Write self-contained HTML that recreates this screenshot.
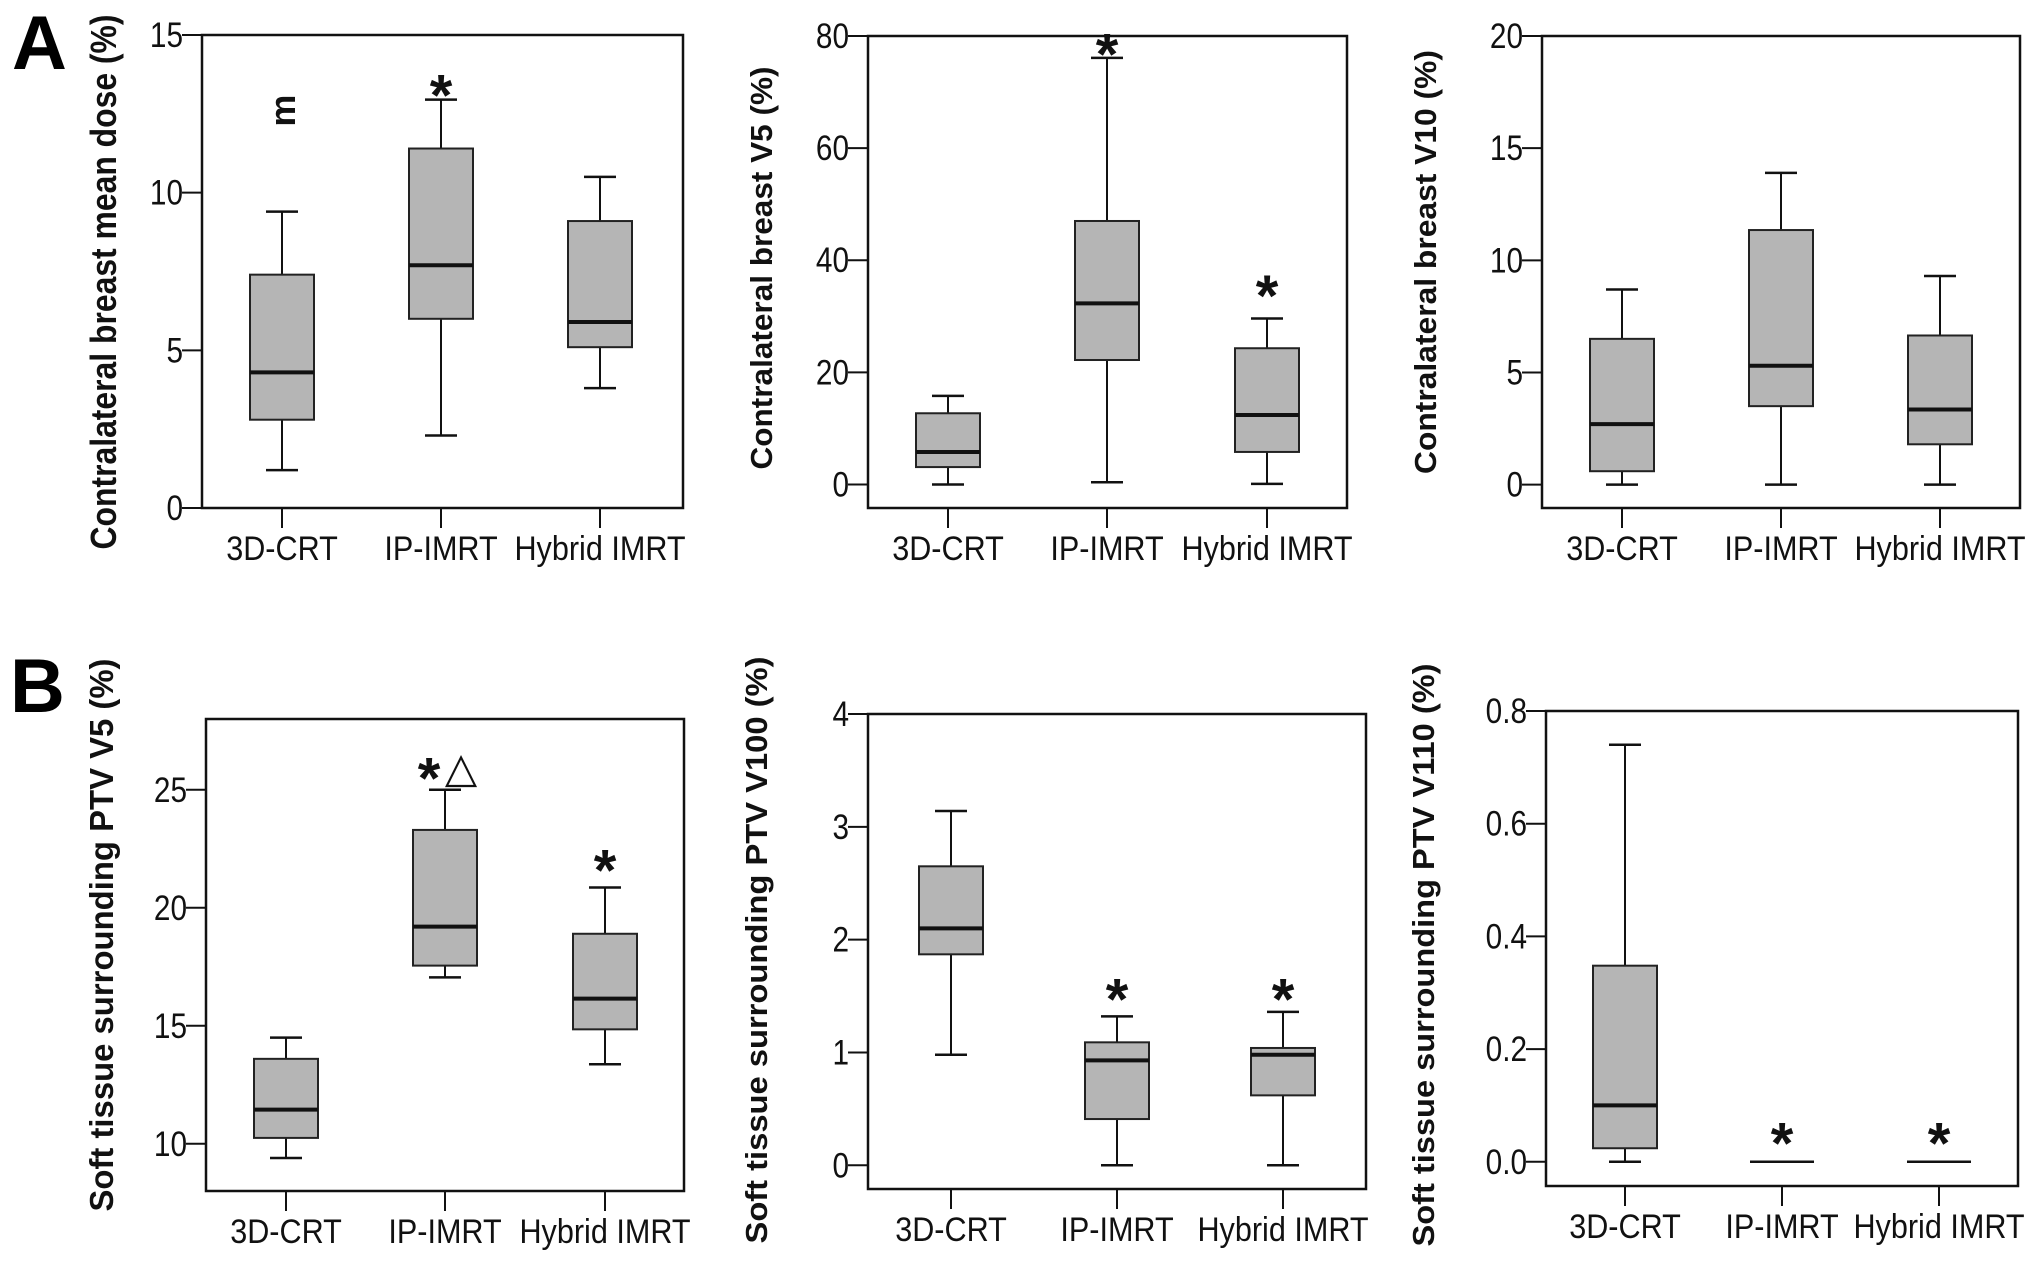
<!DOCTYPE html>
<html><head><meta charset="utf-8">
<style>
html,body{margin:0;padding:0;background:#fff;}
svg{display:block;font-family:"Liberation Sans",Arial,sans-serif;}
</style></head>
<body>
<svg id="fig" width="2031" height="1263" viewBox="0 0 2031 1263" xmlns="http://www.w3.org/2000/svg">
<text x="12" y="69" font-size="76" font-weight="bold">A</text>
<text x="10" y="712" font-size="76" font-weight="bold">B</text>
</svg>
<script>
const categories = ["3D-CRT", "IP-IMRT", "Hybrid IMRT"];

const a1Min = [1.2, 2.3, 3.8];
const a1Q1 = [2.8, 6.0, 5.1];
const a1Med = [4.3, 7.7, 5.9];
const a1Q3 = [7.4, 11.4, 9.1];
const a1Max = [9.4, 12.95, 10.5];
const a1Ticks = [0, 5, 10, 15];
const a1TickLabels = ["0", "5", "10", "15"];

const a2Min = [0, 0.4, 0.1];
const a2Q1 = [3.1, 22.2, 5.8];
const a2Med = [5.8, 32.3, 12.4];
const a2Q3 = [12.7, 47.0, 24.3];
const a2Max = [15.8, 76.1, 29.6];
const a2Ticks = [0, 20, 40, 60, 80];
const a2TickLabels = ["0", "20", "40", "60", "80"];

const a3Min = [0, 0, 0];
const a3Q1 = [0.6, 3.5, 1.8];
const a3Med = [2.7, 5.3, 3.35];
const a3Q3 = [6.5, 11.35, 6.65];
const a3Max = [8.7, 13.9, 9.3];
const a3Ticks = [0, 5, 10, 15, 20];
const a3TickLabels = ["0", "5", "10", "15", "20"];

const b1Min = [9.4, 17.05, 13.37];
const b1Q1 = [10.25, 17.55, 14.85];
const b1Med = [11.45, 19.2, 16.15];
const b1Q3 = [13.6, 23.3, 18.9];
const b1Max = [14.5, 25.0, 20.86];
const b1Ticks = [10, 15, 20, 25];
const b1TickLabels = ["10", "15", "20", "25"];

const b2Min = [0.98, 0, 0];
const b2Q1 = [1.87, 0.41, 0.62];
const b2Med = [2.1, 0.93, 0.98];
const b2Q3 = [2.65, 1.09, 1.04];
const b2Max = [3.14, 1.32, 1.36];
const b2Ticks = [0, 1, 2, 3, 4];
const b2TickLabels = ["0", "1", "2", "3", "4"];

const b3Min = [0, 0, 0];
const b3Q1 = [0.024, 0, 0];
const b3Med = [0.1, 0, 0];
const b3Q3 = [0.348, 0, 0];
const b3Max = [0.74, 0, 0];
const b3Ticks = [0, 0.2, 0.4, 0.6, 0.8];
const b3TickLabels = ["0.0", "0.2", "0.4", "0.6", "0.8"];

const NS = "http://www.w3.org/2000/svg";
const svg = document.getElementById("fig");
function mk(tag, attrs, parent) {
  const e = document.createElementNS(NS, tag);
  for (const k in attrs) e.setAttribute(k, attrs[k]);
  (parent || svg).appendChild(e);
  return e;
}

function panel(cfg) {
  const g = mk("g", {});
  
  
  const y = v => cfg.bottom - (v - cfg.ymin) / (cfg.ymax - cfg.ymin) * (cfg.bottom - cfg.top);
  const x = i => cfg.cx[i];
  const frame = mk("rect", {x: cfg.left, y: cfg.top, width: cfg.right - cfg.left, height: cfg.bottom - cfg.top, fill: "none", stroke: "#111", "stroke-width": 2.5}, g);
  
  
  cfg.ticks.forEach((t, i) => {
    const ln = mk("line", {x1: cfg.left - 20, x2: cfg.left, y1: y(t), y2: y(t), stroke: "#111", "stroke-width": 2}, g);
    
    
    const tx = mk("text", {x: 0, y: 0, "font-size": 35, "text-anchor": "end", fill: "#111",
      transform: "translate(" + (cfg.left - 19) + "," + (y(t) + 12) + ") scale(0.85,1)"}, g);
    
    
    tx.textContent = cfg.tickLabels[i];
  });
  categories.forEach((c, i) => {
    const ln = mk("line", {x1: x(i), x2: x(i), y1: cfg.bottom, y2: cfg.bottom + 20, stroke: "#111", "stroke-width": 2}, g);
    
    
    const tx = mk("text", {x: 0, y: 0, "font-size": 34, "text-anchor": "middle", fill: "#111",
      transform: "translate(" + x(i) + "," + (cfg.bottom + 52) + ") scale(0.9,1)"}, g);
    
    
    tx.textContent = c;
  });
  const hw = 32, cw = 16;
  categories.forEach((c, i) => {
    const bg = mk("g", {}, g);
    
    
    const mn = cfg.min[i], q1 = cfg.q1[i], md = cfg.med[i], q3 = cfg.q3[i], mx = cfg.max[i];
    if (q3 > q1) {
      mk("line", {x1: x(i), x2: x(i), y1: y(mx), y2: y(q3), stroke: "#111", "stroke-width": 2}, bg);
      mk("line", {x1: x(i), x2: x(i), y1: y(q1), y2: y(mn), stroke: "#111", "stroke-width": 2}, bg);
      mk("line", {x1: x(i) - cw, x2: x(i) + cw, y1: y(mx), y2: y(mx), stroke: "#111", "stroke-width": 2.5}, bg);
      mk("line", {x1: x(i) - cw, x2: x(i) + cw, y1: y(mn), y2: y(mn), stroke: "#111", "stroke-width": 2.5}, bg);
      mk("rect", {x: x(i) - hw, y: y(q3), width: 2 * hw, height: y(q1) - y(q3), fill: "#b5b5b5", stroke: "#222", "stroke-width": 2}, bg);
      mk("line", {x1: x(i) - hw, x2: x(i) + hw, y1: y(md), y2: y(md), stroke: "#111", "stroke-width": 4}, bg);
    } else {
      mk("line", {x1: x(i) - hw, x2: x(i) + hw, y1: y(md), y2: y(md), stroke: "#111", "stroke-width": 2.5}, bg);
    }
  });
  (cfg.marks || []).forEach(m => {
    const tx = mk("text", {x: x(m.i) + (m.dx || 0), y: y(m.v) + 30, "font-size": 58, "font-weight": "bold", "text-anchor": "middle", fill: "#111"}, g);
    
    
    tx.textContent = m.t;
  });
  const tt = mk("text", {x: 0, y: 0, "font-size": cfg.tfs, "font-weight": "bold", "text-anchor": "middle", fill: "#111",
    transform: "translate(" + (cfg.tx + cfg.tfs * 0.36) + "," + cfg.ty + ") rotate(-90)",
    textLength: cfg.tlen, lengthAdjust: "spacingAndGlyphs"}, g);
  
  
  tt.textContent = cfg.title;
  return {g, y, x};
}

const pa1 = panel({name: "panel-a1-mean-dose", left: 202, right: 683, top: 35, bottom: 508, ymin: 0, ymax: 15,
  cx: [282, 441, 600], ticks: a1Ticks, tickLabels: a1TickLabels,
  min: a1Min, q1: a1Q1, med: a1Med, q3: a1Q3, max: a1Max,
  marks: [{i: 1, v: 13.4, t: "*"}],
  title: "Contralateral breast mean dose (%)", tx: 103, ty: 282, tlen: 535, tfs: 36});
const mm = mk("text", {x: 0, y: 0, "font-size": 36, "font-weight": "bold", "text-anchor": "middle", fill: "#111",
  transform: "translate(" + (pa1.x(0) + 13) + "," + pa1.y(12.6) + ") rotate(-90)"}, pa1.g);


mm.textContent = "m";

panel({name: "panel-a2-v5", left: 868, right: 1347, top: 36, bottom: 508, ymin: -4.2, ymax: 80,
  cx: [948, 1107, 1267], ticks: a2Ticks, tickLabels: a2TickLabels,
  min: a2Min, q1: a2Q1, med: a2Med, q3: a2Q3, max: a2Max,
  marks: [{i: 1, v: 78.5, t: "*"}, {i: 2, v: 35.4, t: "*"}],
  title: "Contralateral breast V5 (%)", tx: 761, ty: 268, tlen: 403, tfs: 31});

panel({name: "panel-a3-v10", left: 1542, right: 2020, top: 36, bottom: 508, ymin: -1.04, ymax: 20,
  cx: [1622, 1781, 1940], ticks: a3Ticks, tickLabels: a3TickLabels,
  min: a3Min, q1: a3Q1, med: a3Med, q3: a3Q3, max: a3Max,
  marks: [],
  title: "Contralateral breast V10 (%)", tx: 1425, ty: 262, tlen: 424, tfs: 31});

panel({name: "panel-b1-soft-tissue-v5", left: 206, right: 684, top: 719, bottom: 1191, ymin: 8, ymax: 28,
  cx: [286, 445, 605], ticks: b1Ticks, tickLabels: b1TickLabels,
  min: b1Min, q1: b1Q1, med: b1Med, q3: b1Q3, max: b1Max,
  marks: [{i: 1, v: 25.9, t: "*", dx: -16}, {i: 2, v: 22, t: "*"}],
  title: "Soft  tissue  surrounding PTV  V5 (%)", tx: 101, ty: 935, tlen: 553, tfs: 33});
const tri = mk("text", {x: 461, y: 782, "font-size": 42, "text-anchor": "middle", fill: "#111"});


tri.textContent = "△";

panel({name: "panel-b2-soft-tissue-v100", left: 868, right: 1366, top: 714, bottom: 1189, ymin: -0.21, ymax: 4,
  cx: [951, 1117, 1283], ticks: b2Ticks, tickLabels: b2TickLabels,
  min: b2Min, q1: b2Q1, med: b2Med, q3: b2Q3, max: b2Max,
  marks: [{i: 1, v: 1.56, t: "*"}, {i: 2, v: 1.56, t: "*"}],
  title: "Soft  tissue  surrounding PTV V100 (%)", tx: 756, ty: 950, tlen: 587, tfs: 31});

panel({name: "panel-b3-soft-tissue-v110", left: 1546, right: 2018, top: 711, bottom: 1186, ymin: -0.043, ymax: 0.8,
  cx: [1625, 1782, 1939], ticks: b3Ticks, tickLabels: b3TickLabels,
  min: b3Min, q1: b3Q1, med: b3Med, q3: b3Q3, max: b3Max,
  marks: [{i: 1, v: 0.05, t: "*"}, {i: 2, v: 0.05, t: "*"}],
  title: "Soft  tissue  surrounding PTV V110 (%)", tx: 1423, ty: 955, tlen: 583, tfs: 31});
</script>
</body></html>
